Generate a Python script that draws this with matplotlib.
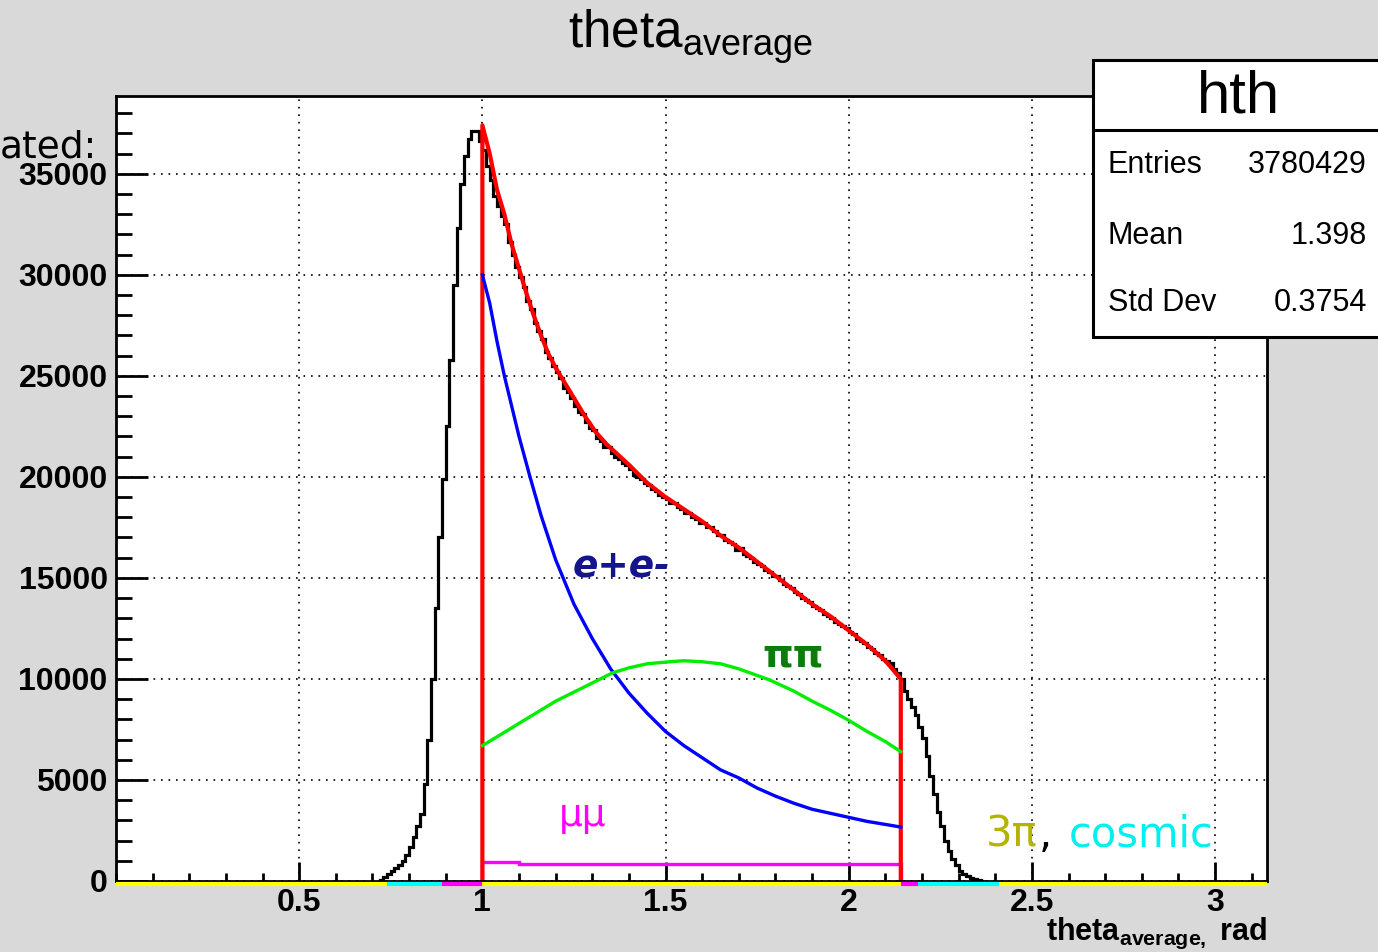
import numpy as np
import matplotlib
matplotlib.use("Agg")
import matplotlib.pyplot as plt
import matplotlib.transforms as mtransforms
from matplotlib.patches import Rectangle
from matplotlib.lines import Line2D
from matplotlib.ticker import MultipleLocator

plt.rcParams['font.family'] = ['Liberation Sans', 'DejaVu Sans']
plt.rcParams['mathtext.fontset'] = 'custom'
plt.rcParams['mathtext.rm'] = 'Liberation Sans'
plt.rcParams['mathtext.bf'] = 'Liberation Sans:bold'
plt.rcParams['mathtext.default'] = 'regular'

# --- data (counts in thousands) ---
# black histogram, 0.01 rad bins starting at 0.72
hist_start = 0.72
hist_width = 0.01
hist_k = [
    0.05, 0.2, 0.35, 0.5, 0.65, 0.8, 1.0, 1.3, 1.7, 2.2,          # 0.72-0.81
    2.7, 3.3, 4.8, 7.0, 10.0, 13.5, 17.0, 19.9, 22.5, 25.8,       # 0.82-0.91
    29.5, 32.3, 34.5, 35.9, 36.7, 37.1, 37.1, 36.6, 36.2, 35.4,   # 0.92-1.01
    34.7, 33.9, 33.4, 32.9, 32.5, 31.6, 31.0, 30.4, 29.9, 29.4,   # 1.02-1.11
    28.7, 28.3, 27.6, 27.2, 26.8, 26.2, 25.9, 25.5, 25.2, 24.9,   # 1.12-1.21
    24.4, 24.2, 23.9, 23.5, 23.2, 23.1, 22.7, 22.4, 22.3, 21.9,   # 1.22-1.31
    21.8, 21.5, 21.5, 21.2, 21.0, 20.9, 20.7, 20.6, 20.4, 20.1,   # 1.32-1.41
    20.0, 19.9, 19.7, 19.6, 19.4, 19.3, 19.1, 19.0, 18.9, 18.7,   # 1.42-1.51
    18.7, 18.5, 18.4, 18.2, 18.2, 18.0, 17.9, 17.7, 17.7, 17.5,   # 1.52-1.61
    17.5, 17.3, 17.1, 17.1, 16.9, 16.8, 16.7, 16.4, 16.5, 16.2,   # 1.62-1.71
    16.1, 16.0, 15.8, 15.7, 15.6, 15.4, 15.3, 15.1, 15.1, 14.9,   # 1.72-1.81
    14.7, 14.6, 14.5, 14.3, 14.2, 14.0, 13.9, 13.8, 13.6, 13.5,   # 1.82-1.91
    13.4, 13.2, 13.1, 13.0, 12.8, 12.7, 12.6, 12.5, 12.3, 12.2,   # 1.92-2.01
    12.0, 11.9, 11.8, 11.6, 11.5, 11.3, 11.2, 11.0, 10.9, 10.8,   # 2.02-2.11
    10.5, 10.3, 10.0, 9.4, 9.0, 8.6, 8.2, 7.6, 7.1, 6.2,          # 2.12-2.21
    5.2, 4.3, 3.4, 2.7, 2.0, 1.5, 1.1, 0.8, 0.5, 0.35,            # 2.22-2.31
    0.25, 0.15, 0.08, 0.03, 0.0,                                  # 2.32-2.36
]

# total fit (red)
fit_x = [1.00, 1.00, 1.02, 1.04, 1.06, 1.08, 1.10, 1.12, 1.14, 1.16, 1.18, 1.20,
         1.22, 1.25, 1.28, 1.31, 1.34, 1.37, 1.40, 1.45, 1.50, 1.55, 1.60,
         1.65, 1.70, 1.75, 1.80, 1.85, 1.90, 1.95, 2.00, 2.05, 2.10, 2.142, 2.142]
fit_k = [0.0, 37.4, 36.0, 34.2, 33.0, 31.5, 30.3, 29.1, 28.0, 27.0, 26.1, 25.4,
         24.8, 23.9, 23.0, 22.2, 21.6, 21.1, 20.6, 19.7, 19.0, 18.4, 17.8,
         17.1, 16.5, 15.8, 15.1, 14.4, 13.7, 13.1, 12.4, 11.7, 10.9, 10.0, 0.0]

# e+e- component (blue)
ee_x = [1.00, 1.02, 1.04, 1.06, 1.08, 1.10, 1.13, 1.16, 1.20, 1.25, 1.30, 1.35,
        1.40, 1.45, 1.50, 1.55, 1.60, 1.65, 1.70, 1.75, 1.80, 1.85, 1.90, 1.95,
        2.00, 2.05, 2.10, 2.142]
ee_k = [30.0, 28.6, 26.7, 25.0, 23.5, 22.0, 20.0, 18.1, 15.9, 13.7, 12.0, 10.5,
        9.3, 8.3, 7.4, 6.7, 6.1, 5.5, 5.1, 4.6, 4.2, 3.85, 3.55, 3.35,
        3.15, 2.95, 2.8, 2.67]

# pi pi component (green)
pipi_x = [1.00, 1.055, 1.10, 1.20, 1.30, 1.355, 1.40, 1.45, 1.51, 1.55, 1.60, 1.65,
          1.70, 1.784, 1.85, 1.90, 1.95, 2.00, 2.05, 2.10, 2.142]
pipi_k = [6.7, 7.3, 7.8, 8.9, 9.8, 10.3, 10.55, 10.75, 10.85, 10.9, 10.85, 10.75,
          10.5, 9.95, 9.4, 8.9, 8.45, 7.95, 7.4, 6.9, 6.4]

# mu mu component (magenta), step histogram
mumu_edges = [0.89, 1.00, 1.10, 2.142, 2.19]
mumu_k = [0.0, 0.94, 0.84, 0.0]

# cosmic (cyan) and 3pi (yellow): essentially zero
cosmic_edges = [[0.74, 0.89], [2.19, 2.41]]
cosmic_k = [0.0, 0.0]
threepi_edges = [0.0, np.pi]
threepi_k = [0.0]

stats_names = ["Entries", "Mean", "Std Dev"]
stats_vals = ["3780429", "1.398", "0.3754"]

# --- figure ---
fig = plt.figure(figsize=(13.78, 9.52), dpi=100)
fig.patch.set_facecolor('#d9d9d9')
ax = fig.add_axes([116/1378, 71/952, (1267-116)/1378, (882-97)/952])
ax.set_facecolor('white')

edges = hist_start + hist_width * np.arange(len(hist_k) + 1)
ax.stairs(np.array(hist_k) * 1000, edges, color='black', lw=2.3, zorder=3)

ax.plot(fit_x, np.array(fit_k) * 1000, color='#ff0000', lw=3.0, zorder=4)
ax.plot(ee_x, np.array(ee_k) * 1000, color='#0000ff', lw=2.4, zorder=4)
ax.plot(pipi_x, np.array(pipi_k) * 1000, color='#00ee00', lw=2.4, zorder=4)

# near-zero histograms sit just under the x axis line
below = mtransforms.offset_copy(ax.transData, fig=fig, x=0, y=-2.5, units='dots')
ax.stairs(threepi_k, threepi_edges, color='#ffff00', lw=3.0, zorder=6,
          clip_on=False, transform=below)
for e, v in zip(cosmic_edges, cosmic_k):
    ax.stairs([v], e, color='#00ffff', lw=3.0, zorder=6.1, clip_on=False,
              transform=below)
ax.stairs(np.array(mumu_k)[[0]] * 1000, mumu_edges[:2], color='#ff00ff', lw=3.0,
          zorder=6.2, clip_on=False, transform=below)
ax.stairs(np.array(mumu_k)[[3]] * 1000, mumu_edges[3:], color='#ff00ff', lw=3.0,
          zorder=6.2, clip_on=False, transform=below)
ax.stairs(np.array(mumu_k)[1:3] * 1000, mumu_edges[1:4], color='#ff00ff', lw=2.4,
          zorder=3.5)

ax.set_xlim(0, np.pi)
ax.set_ylim(0, 38850)

ax.xaxis.set_minor_locator(MultipleLocator(0.1))
ax.yaxis.set_major_locator(MultipleLocator(5000))
ax.yaxis.set_minor_locator(MultipleLocator(1000))
ax.set_xticks([0.5, 1, 1.5, 2, 2.5, 3])
ax.set_xticklabels(['0.5', '1', '1.5', '2', '2.5', '3'])

ax.tick_params(axis='x', which='major', direction='in', length=14, width=2.0,
               pad=5, labelsize=23)
ax.tick_params(axis='x', which='minor', direction='in', length=5.5, width=2.0)
ax.tick_params(axis='y', which='major', direction='in', length=23, width=2.0,
               pad=6, labelsize=23)
ax.tick_params(axis='y', which='minor', direction='in', length=11.5, width=2.0)
for lab in ax.get_xticklabels() + ax.get_yticklabels():
    lab.set_fontweight('bold')

for s in ax.spines.values():
    s.set_linewidth(2.0)
    s.set_zorder(5)

ax.grid(True, which='major', color='black', lw=1.2, linestyle=(0, (1, 3.5)))
ax.set_axisbelow(True)

# component labels
ax.text(1.246, 15050, 'e+e-', color='#14148c', fontsize=27, fontweight='bold',
        fontstyle='italic', family='DejaVu Sans', va='baseline')
ax.text(1.765, 10600, 'ππ', color='#0a7d0a', fontsize=28, fontweight='bold',
        family='DejaVu Sans', va='baseline')
ax.text(1.21, 2700, 'μμ', color='#ff00ff', fontsize=27,
        family='DejaVu Sans', va='baseline')
ax.text(2.374, 1700, '3π', color='#b4b400', fontsize=30,
        family='DejaVu Sans', va='baseline')
ax.text(2.52, 1700, ',', color='black', fontsize=30,
        family='DejaVu Sans', va='baseline')
ax.text(2.600, 1700, 'cosmic', color='#00f0f0', fontsize=30,
        family='DejaVu Sans', va='baseline')

# titles
fig.text(691/1378, 1 - 48/952, r'theta$_{average}$', fontsize=37,
         ha='center', va='baseline')
fig.text(1267/1378, 1 - 940/952, r'theta$_{\mathbf{average,}}$ rad',
         fontsize=22, fontweight='bold', ha='right', va='baseline')
fig.text(97/1378, 1 - 157/952, 'ated:', fontsize=27, family='DejaVu Sans',
         ha='right', va='baseline')

# stats box
bl, bb, br, bt = 1093/1378, 1 - 337/952, 1383/1378, 1 - 60/952
fig.patches.append(Rectangle((bl, bb), br - bl, bt - bb, transform=fig.transFigure,
                             facecolor='white', edgecolor='black', lw=2.2,
                             zorder=10))
fig.lines.append(Line2D([bl, br], [1 - 130/952, 1 - 130/952],
                        transform=fig.transFigure, color='black', lw=2.2,
                        zorder=11))
fig.text(1238/1378, 1 - 97/952, 'hth', fontsize=43, ha='center', va='center',
         zorder=12)
for i, (n, v) in enumerate(zip(stats_names, stats_vals)):
    y = 1 - [165, 236, 303][i]/952
    fig.text(1108/1378, y, n, fontsize=22, ha='left', va='center', zorder=12)
    fig.text(1367/1378, y, v, fontsize=22, ha='right', va='center', zorder=12)

fig.savefig('out.png', dpi=100, facecolor=fig.get_facecolor())
